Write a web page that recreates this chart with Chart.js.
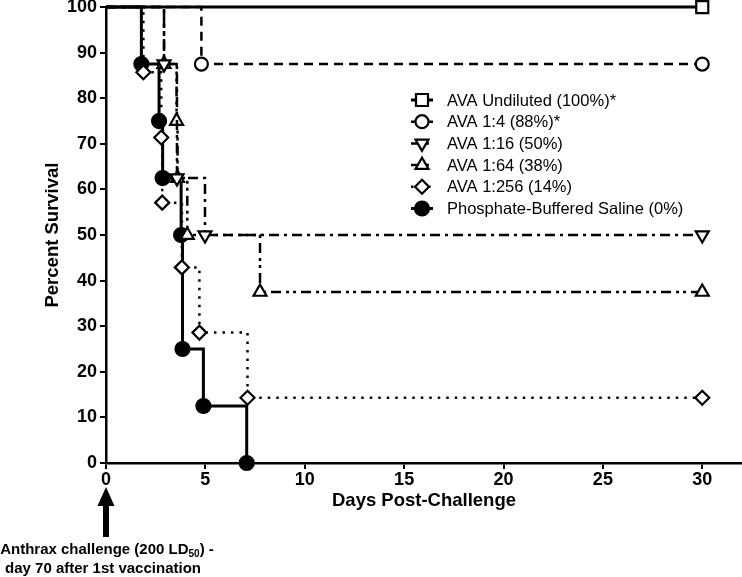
<!DOCTYPE html>
<html><head><meta charset="utf-8">
<script src="https://cdn.jsdelivr.net/npm/chart.js@4.4.1/dist/chart.umd.min.js"></script>
<style>html,body{margin:0;padding:0;background:#fff;}#wrap{width:742px;height:577px;}</style>
</head><body><div id="wrap"><canvas id="c" width="742" height="577"></canvas></div>
<script>
// ---- data ----
const seriesNames = [
  'AVA Undiluted (100%)*',
  'AVA 1:4 (88%)*',
  'AVA 1:16 (50%)',
  'AVA 1:64 (38%)',
  'AVA 1:256 (14%)',
  'Phosphate-Buffered Saline (0%)'
];
const undilutedDays = [0, 30];
const undilutedSurv = [100, 100];
const ava4Days = [0, 4.8, 30];
const ava4Surv = [100, 87.5, 87.5];
const ava16Days = [0, 2.92, 3.57, 4.98, 30];
const ava16Surv = [100, 87.5, 62.5, 50, 50];
const ava64Days = [0, 2.92, 3.55, 3.6, 4.09, 7.75, 30];
const ava64Surv = [100, 87.5, 75, 62.5, 50, 37.5, 37.5];
const ava256Days = [0, 1.88, 2.78, 2.83, 3.82, 4.7, 7.12, 30];
const ava256Surv = [100, 85.7, 71.4, 57.1, 42.9, 28.6, 14.3, 14.3];
const pbsDays = [0, 1.78, 2.67, 2.85, 3.78, 3.85, 4.9, 7.08];
const pbsSurv = [100, 87.5, 75, 62.5, 50, 25, 12.5, 0];
const xTickStep = 5, xMax = 32;
const yTickStep = 10;

const FONT = "'Liberation Sans', Arial, sans-serif";
const NARROW = "'Liberation Sans Narrow', 'Arial Narrow', 'Liberation Sans', Arial, sans-serif";

function pts(days, surv) { return days.map((d, i) => ({x: d, y: surv[i]})); }
function radii(days, r) { return days.map((d, i) => i === 0 ? 0 : r); }

function ds(label, days, surv, o) {
  return Object.assign({
    label, data: pts(days, surv), stepped: true, fill: false, clip: false,
    borderColor: '#000', borderWidth: 2.5, borderDash: [],
    pointBackgroundColor: '#fff', pointBorderColor: '#000', pointBorderWidth: 2.2,
    pointRadius: radii(days, o.r || 6.5), pointRotation: 0
  }, o);
}

const datasets = [
  ds(seriesNames[0], undilutedDays, undilutedSurv, {pointStyle: 'rect', r: 8.5, borderWidth: 3}),
  ds(seriesNames[1], ava4Days, ava4Surv, {pointStyle: 'circle', r: 6.5, borderDash: [9, 6]}),
  ds(seriesNames[2], ava16Days, ava16Surv, {pointStyle: 'triangle', pointRotation: 180, r: 7.5, borderDash: [10, 5, 3, 5]}),
  ds(seriesNames[3], ava64Days, ava64Surv, {pointStyle: 'triangle', r: 7.5, borderDash: [10, 5, 3, 4, 3, 5]}),
  ds(seriesNames[4], ava256Days, ava256Surv, {pointStyle: 'rectRot', r: 7, borderDash: [2.5, 6]}),
  ds(seriesNames[5], pbsDays, pbsSurv, {pointStyle: 'circle', r: 7, borderWidth: 3, pointBackgroundColor: '#000'})
];
datasets.forEach(d => { d.radius = d.r; });

const legendPlugin = {
  id: 'kmLegend',
  afterDraw(chart) {
    const ctx = chart.ctx;
    const x0 = 411, x1 = 433, xm = 422, xt = 447, y0 = 100, dy = 21.7;
    chart.data.datasets.forEach((d, i) => {
      const y = y0 + i * dy;
      ctx.save();
      ctx.strokeStyle = '#000';
      ctx.lineWidth = d.borderWidth;
      ctx.setLineDash(d.borderDash || []);
      ctx.beginPath(); ctx.moveTo(x0, y); ctx.lineTo(x1, y); ctx.stroke();
      ctx.setLineDash([]);
      ctx.fillStyle = d.pointBackgroundColor;
      ctx.lineWidth = d.pointBorderWidth;
      Chart.helpers.drawPoint(ctx, {pointStyle: d.pointStyle, rotation: d.pointRotation || 0, radius: d.radius, borderWidth: d.pointBorderWidth}, xm, y);
      ctx.fillStyle = '#000';
      ctx.font = '16.5px ' + FONT;
      ctx.textBaseline = 'middle';
      ctx.textAlign = 'left';
      ctx.fillText(d.label, xt, y + 1);
      ctx.restore();
    });
  }
};

const annotationPlugin = {
  id: 'challengeNote',
  afterDraw(chart) {
    const ctx = chart.ctx;
    const ax = chart.scales.x.getPixelForValue(0);
    ctx.save();
    ctx.fillStyle = '#000';
    ctx.beginPath();
    ctx.moveTo(ax, 487); ctx.lineTo(ax + 8.5, 506); ctx.lineTo(ax - 8.5, 506); ctx.closePath(); ctx.fill();
    ctx.fillRect(ax - 3, 505, 6, 32);
    const big = 'bold 15px ' + FONT, small = 'bold 10px ' + FONT;
    const p1 = 'Anthrax challenge (200 LD', sub = '50', p3 = ') -';
    ctx.font = big; const w1 = ctx.measureText(p1).width, w3 = ctx.measureText(p3).width;
    ctx.font = small; const w2 = ctx.measureText(sub).width;
    const total = w1 + w2 + w3;
    let x = 107 - total / 2;
    const yl1 = 554;
    ctx.textBaseline = 'alphabetic'; ctx.textAlign = 'left';
    ctx.font = big; ctx.fillText(p1, x, yl1); x += w1;
    ctx.font = small; ctx.fillText(sub, x, yl1 + 3); x += w2;
    ctx.font = big; ctx.fillText(p3, x, yl1);
    ctx.textAlign = 'center';
    ctx.fillText('day 70 after 1st vaccination', 103, 573);
    ctx.restore();
  }
};

new Chart(document.getElementById('c'), {
  type: 'line',
  data: {datasets},
  options: {
    responsive: false, animation: false, devicePixelRatio: 1,
    layout: {autoPadding: false, padding: {left: 0, right: 0, top: 7, bottom: 65}},
    plugins: {legend: {display: false}, tooltip: {enabled: false}},
    elements: {line: {tension: 0}},
    scales: {
      x: {
        type: 'linear', min: 0, max: xMax,
        ticks: {stepSize: xTickStep, includeBounds: false, color: '#000', maxRotation: 0, padding: 0,
          font: {family: NARROW, weight: 'bold', size: 18}},
        grid: {display: true, drawOnChartArea: false, drawTicks: true, tickLength: 6, tickWidth: 2, tickColor: '#000', color: '#000', lineWidth: 2},
        border: {display: true, color: '#000', width: 2.5},
        title: {display: true, text: 'Days Post-Challenge', color: '#000', padding: {top: 0, bottom: 0},
          font: {family: FONT, weight: 'bold', size: 18.5}},
        afterFit(s) { s.height = 49; }
      },
      y: {
        min: 0, max: 100,
        ticks: {stepSize: yTickStep, color: '#000', padding: 3, font: {family: NARROW, weight: 'bold', size: 18, lineHeight: 0.45}},
        grid: {display: true, drawOnChartArea: false, drawTicks: true, tickLength: 6, tickWidth: 2, tickColor: '#000', color: '#000', lineWidth: 2},
        border: {display: true, color: '#000', width: 2.5},
        title: {display: true, text: 'Percent Survival', color: '#000', padding: {top: 42, bottom: 0},
          font: {family: FONT, weight: 'bold', size: 18.5}},
        afterFit(s) { s.width = 106; }
      }
    }
  },
  plugins: [legendPlugin, annotationPlugin]
});
</script>
</body></html>
